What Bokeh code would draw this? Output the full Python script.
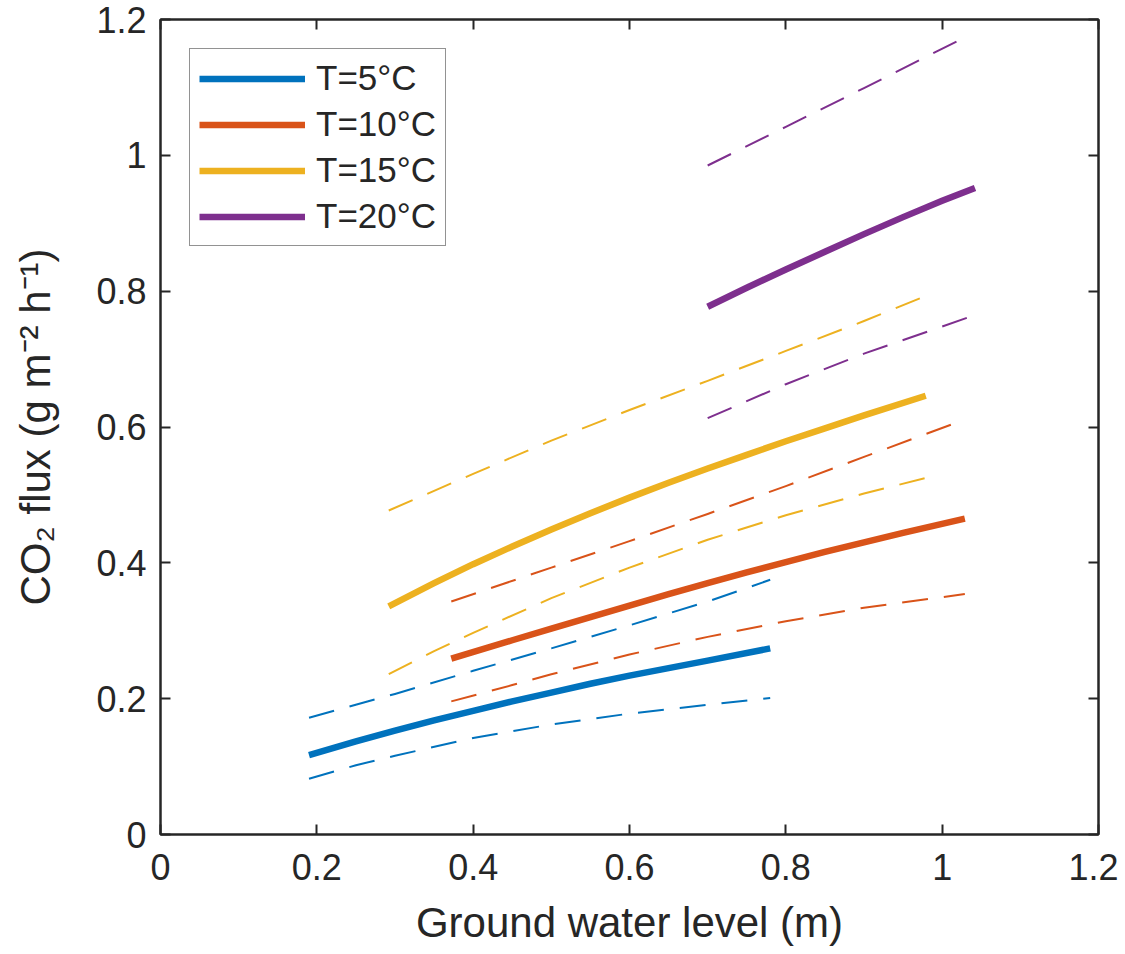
from bokeh.plotting import figure
from bokeh.models import LinearAxis, FixedTicker, Legend, LegendItem
from bokeh.embed import file_html
from bokeh.resources import INLINE

# ---------------- data ----------------
x_t5 = [0.19, 0.25, 0.30, 0.35, 0.40, 0.45, 0.50, 0.55, 0.60, 0.65, 0.70, 0.78]
y_t5 = [0.117, 0.137, 0.153, 0.168, 0.182, 0.196, 0.209, 0.222, 0.234, 0.245, 0.256, 0.274]
x_t5_up = [0.19, 0.30, 0.40, 0.50, 0.60, 0.70, 0.78]
y_t5_up = [0.172, 0.207, 0.241, 0.274, 0.308, 0.343, 0.375]
x_t5_lo = [0.19, 0.25, 0.30, 0.40, 0.50, 0.60, 0.70, 0.78]
y_t5_lo = [0.082, 0.102, 0.116, 0.142, 0.162, 0.178, 0.191, 0.201]

x_t10 = [0.372, 0.45, 0.50, 0.55, 0.60, 0.65, 0.70, 0.75, 0.80, 0.85, 0.90, 0.95, 1.029]
y_t10 = [0.259, 0.286, 0.303, 0.320, 0.337, 0.354, 0.370, 0.386, 0.401, 0.416, 0.430, 0.444, 0.465]
x_t10_up = [0.372, 0.50, 0.60, 0.70, 0.80, 0.90, 1.029]
y_t10_up = [0.343, 0.393, 0.432, 0.472, 0.513, 0.556, 0.611]
x_t10_lo = [0.372, 0.45, 0.50, 0.60, 0.70, 0.80, 0.90, 1.029]
y_t10_lo = [0.196, 0.220, 0.236, 0.265, 0.291, 0.314, 0.334, 0.354]

x_t15 = [0.292, 0.35, 0.40, 0.45, 0.50, 0.55, 0.60, 0.65, 0.70, 0.75, 0.80, 0.85, 0.90, 0.979]
y_t15 = [0.336, 0.370, 0.398, 0.424, 0.449, 0.473, 0.496, 0.518, 0.539, 0.559, 0.579, 0.598, 0.617, 0.646]
x_t15_up = [0.292, 0.40, 0.50, 0.60, 0.70, 0.80, 0.90, 0.979]
y_t15_up = [0.477, 0.531, 0.580, 0.625, 0.668, 0.712, 0.756, 0.793]
x_t15_lo = [0.292, 0.35, 0.40, 0.50, 0.60, 0.70, 0.80, 0.90, 0.979]
y_t15_lo = [0.236, 0.270, 0.297, 0.348, 0.393, 0.434, 0.470, 0.502, 0.525]

x_t20 = [0.70, 0.75, 0.80, 0.85, 0.90, 0.95, 1.00, 1.042]
y_t20 = [0.777, 0.805, 0.832, 0.858, 0.884, 0.909, 0.933, 0.952]
x_t20_up = [0.70, 0.80, 0.90, 1.026]
y_t20_up = [0.985, 1.042, 1.099, 1.172]
x_t20_lo = [0.70, 0.80, 0.90, 1.04]
y_t20_lo = [0.613, 0.663, 0.708, 0.764]

labels = ["T=5°C", "T=10°C", "T=15°C", "T=20°C"]
colors = ["#0072BD", "#D95319", "#EDB120", "#7E2F8E"]

tick_values = [0, 0.2, 0.4, 0.6, 0.8, 1, 1.2]
tick_labels = ["0", "0.2", "0.4", "0.6", "0.8", "1", "1.2"]

FONT = "Liberation Sans"
TXT = "#262626"

p = figure(width=1118, height=948, x_range=(0, 1.2), y_range=(0, 1.2),
           output_backend="svg", toolbar_location=None,
           min_border_left=160, min_border_right=20,
           min_border_top=19, min_border_bottom=111)
p.background_fill_color = "white"
p.border_fill_color = "white"
p.xgrid.visible = False
p.ygrid.visible = False
p.outline_line_color = TXT
p.outline_line_width = 2


def style_axis(ax, show_labels=True):
    ax.ticker = FixedTicker(ticks=tick_values)
    if show_labels:
        ax.major_label_overrides = {v: s for v, s in zip(tick_values, tick_labels)}
    else:
        ax.major_label_overrides = {v: "" for v in tick_values}
        ax.major_label_standoff = 0
    ax.axis_line_color = TXT
    ax.axis_line_width = 2
    ax.major_tick_line_color = TXT
    ax.major_tick_line_width = 2
    ax.major_tick_in = 10
    ax.major_tick_out = 0
    ax.minor_tick_line_color = None
    ax.major_label_text_font = FONT
    ax.major_label_text_color = TXT
    ax.major_label_text_font_size = "36px"
    ax.axis_label_text_font = FONT
    ax.axis_label_text_color = TXT
    ax.axis_label_text_font_size = "42px"
    ax.axis_label_text_font_style = "normal"


style_axis(p.xaxis[0])
style_axis(p.yaxis[0])
p.xaxis[0].major_label_standoff = 19
p.yaxis[0].major_label_standoff = 14
p.xaxis[0].axis_label = "Ground water level (m)"
p.yaxis[0].axis_label = "CO\u2082 flux (g m\u207b\u00b2 h\u207b\u00b9)"
p.xaxis[0].axis_label_standoff = 16
p.yaxis[0].axis_label_standoff = 34

top_ax = LinearAxis()
style_axis(top_ax, show_labels=False)
p.add_layout(top_ax, "above")
right_ax = LinearAxis()
style_axis(right_ax, show_labels=False)
p.add_layout(right_ax, "right")

series = [
    (x_t5, y_t5, x_t5_up, y_t5_up, x_t5_lo, y_t5_lo),
    (x_t10, y_t10, x_t10_up, y_t10_up, x_t10_lo, y_t10_lo),
    (x_t15, y_t15, x_t15_up, y_t15_up, x_t15_lo, y_t15_lo),
    (x_t20, y_t20, x_t20_up, y_t20_up, x_t20_lo, y_t20_lo),
]

items = []
for (xs, ys, xu, yu, xl, yl), c, lab in zip(series, colors, labels):
    p.line(xu, yu, line_color=c, line_width=2, line_dash="26 16", line_join="round")
    p.line(xl, yl, line_color=c, line_width=2, line_dash="26 16", line_join="round")
    r = p.line(xs, ys, line_color=c, line_width=6.5, line_join="round")
    items.append(LegendItem(label=lab, renderers=[r]))

legend = Legend(items=items, location="top_left", margin=29,
                padding=9, spacing=6, glyph_width=106, glyph_height=39,
                label_standoff=11, label_text_font=FONT,
                label_text_font_size="35px", label_text_color=TXT,
                border_line_color=TXT, border_line_width=1.5,
                background_fill_color="white", background_fill_alpha=1)
p.add_layout(legend, "center")

open("out.html", "w").write(file_html(p, INLINE))
